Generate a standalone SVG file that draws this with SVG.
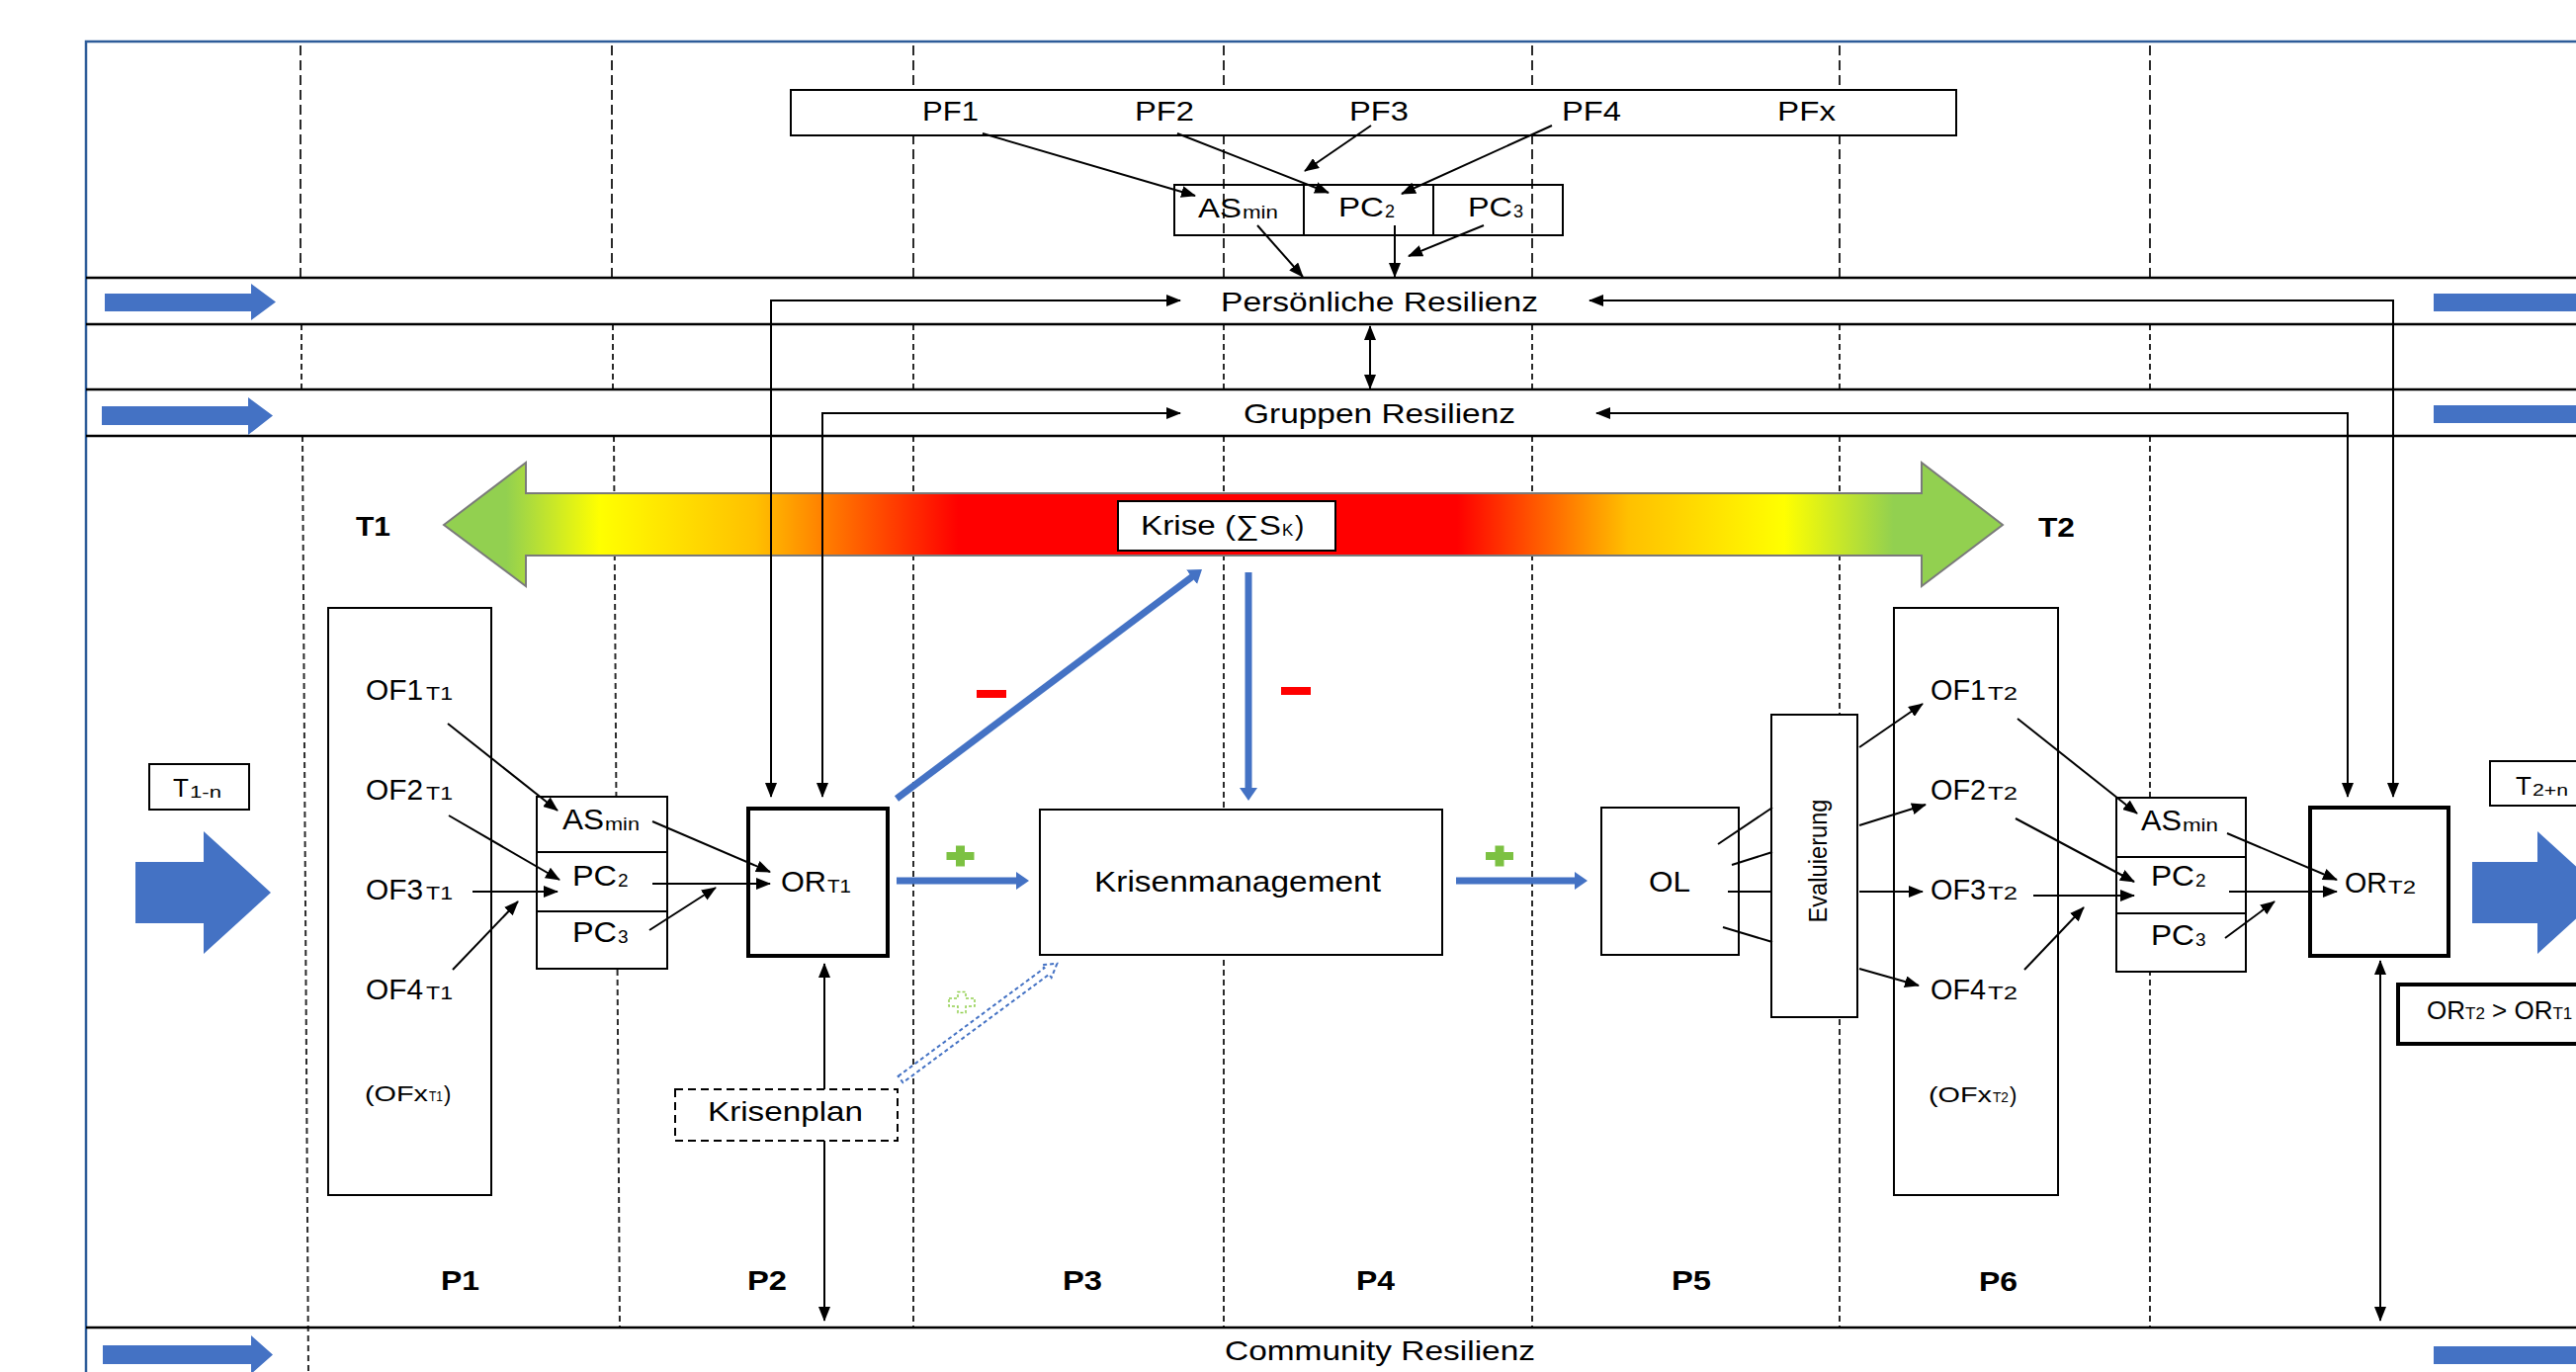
<svg xmlns="http://www.w3.org/2000/svg" width="2606" height="1388" viewBox="0 0 2606 1388">
<defs>
<style>
.t{font-family:"Liberation Sans",Arial,sans-serif;fill:#000}
.b{font-weight:bold}
.box{fill:#fff;stroke:#000;stroke-width:2}
.open{fill:none;stroke:#000;stroke-width:2}
.thick{fill:#fff;stroke:#000;stroke-width:4}
.ln{fill:none;stroke:#000;stroke-width:2}
.arr{fill:none;stroke:#000;stroke-width:2;marker-end:url(#ah)}
.darr{fill:none;stroke:#000;stroke-width:2;marker-start:url(#ah);marker-end:url(#ah)}
.dtop{stroke:#2a2a2a;stroke-width:2;stroke-dasharray:10 5}
.dlow{stroke:#2a2a2a;stroke-width:2;stroke-dasharray:6 4}
.band{stroke:#000;stroke-width:2.5}
.blue{fill:#4472c4}
.barr{fill:none;stroke:#4472c4;stroke-width:7;marker-end:url(#bh)}
.plus{fill:#7cc142}
.minus{fill:#ff0000}
</style>
<linearGradient id="crisisGrad" gradientUnits="userSpaceOnUse" x1="449" y1="0" x2="2026" y2="0">
<stop offset="0" stop-color="#92d050"/>
<stop offset="0.04" stop-color="#92d050"/>
<stop offset="0.10" stop-color="#ffff00"/>
<stop offset="0.20" stop-color="#ffc000"/>
<stop offset="0.33" stop-color="#ff0000"/>
<stop offset="0.65" stop-color="#ff0000"/>
<stop offset="0.76" stop-color="#ffc000"/>
<stop offset="0.86" stop-color="#ffff00"/>
<stop offset="0.93" stop-color="#92d050"/>
<stop offset="1" stop-color="#92d050"/>
</linearGradient>
<marker id="ah" markerUnits="userSpaceOnUse" viewBox="0 0 15 12" markerWidth="15" markerHeight="12" refX="14" refY="6" orient="auto-start-reverse">
<path d="M0,0 L15,6 L0,12 z" fill="#000"/>
</marker>
<marker id="bh" markerUnits="userSpaceOnUse" viewBox="0 0 13 18" markerWidth="13" markerHeight="18" refX="3" refY="9" orient="auto">
<path d="M0,0 L13,9 L0,18 z" fill="#4472c4"/>
</marker>
</defs>

<rect width="2606" height="1388" fill="#fff"/>

<!-- frame -->
<rect id="frame" x="87" y="42" width="2600" height="1400" fill="none" stroke="#2e5c99" stroke-width="2.5"/>

<!-- phase separators -->
<g id="phase-lines">
<line class="dtop" x1="304" y1="46" x2="304" y2="281"/>
<line class="dtop" x1="619" y1="46" x2="619" y2="281"/>
<line class="dtop" x1="924" y1="46" x2="924" y2="281"/>
<line class="dtop" x1="1238" y1="46" x2="1238" y2="281"/>
<line class="dtop" x1="1550" y1="46" x2="1550" y2="281"/>
<line class="dtop" x1="1861" y1="46" x2="1861" y2="281"/>
<line class="dtop" x1="2175" y1="46" x2="2175" y2="281"/>
<line class="dlow" x1="305" y1="328" x2="305" y2="394"/>
<line class="dlow" x1="620" y1="328" x2="620" y2="394"/>
<line class="dlow" x1="924" y1="328" x2="924" y2="394"/>
<line class="dlow" x1="1238" y1="328" x2="1238" y2="394"/>
<line class="dlow" x1="1550" y1="328" x2="1550" y2="394"/>
<line class="dlow" x1="1861" y1="328" x2="1861" y2="394"/>
<line class="dlow" x1="2175" y1="328" x2="2175" y2="394"/>
<line class="dlow" x1="306" y1="441" x2="312" y2="1388"/>
<line class="dlow" x1="621" y1="441" x2="627" y2="1343"/>
<line class="dlow" x1="924" y1="441" x2="924" y2="1343"/>
<line class="dlow" x1="1238" y1="441" x2="1238" y2="1343"/>
<line class="dlow" x1="1550" y1="441" x2="1550" y2="1343"/>
<line class="dlow" x1="1861" y1="441" x2="1861" y2="1343"/>
<line class="dlow" x1="2175" y1="441" x2="2175" y2="1343"/>
</g>

<!-- resilience bands -->
<g id="band-persoenlich">
<line class="band" x1="87" y1="281" x2="2606" y2="281"/>
<line class="band" x1="87" y1="328" x2="2606" y2="328"/>
<polygon class="blue" points="106,297 254,297 254,287 279,305.5 254,324 254,315 106,315"/>
<polygon class="blue" points="2462,297 2615,297 2615,287 2640,305.5 2615,324 2615,315 2462,315"/>
<text class="t" x="1235" y="315" font-size="28" textLength="321" lengthAdjust="spacingAndGlyphs">Persönliche Resilienz</text>
</g>
<g id="band-gruppen">
<line class="band" x1="87" y1="394" x2="2606" y2="394"/>
<line class="band" x1="87" y1="441" x2="2606" y2="441"/>
<polygon class="blue" points="103,411 251,411 251,402 276,420.5 251,440 251,430 103,430"/>
<polygon class="blue" points="2462,410 2615,410 2615,400 2640,419 2615,438 2615,428 2462,428"/>
<text class="t" x="1258" y="428" font-size="28" textLength="275" lengthAdjust="spacingAndGlyphs">Gruppen Resilienz</text>
</g>
<g id="band-community">
<line class="band" x1="87" y1="1343" x2="2606" y2="1343"/>
<polygon class="blue" points="104,1361 254,1361 254,1351 276,1370.5 254,1390 254,1380 104,1380"/>
<polygon class="blue" points="2462,1362 2615,1362 2615,1352 2640,1371 2615,1390 2615,1380 2462,1380"/>
<text class="t" x="1239" y="1376" font-size="28" textLength="314" lengthAdjust="spacingAndGlyphs">Community Resilienz</text>
</g>

<!-- crisis arrow -->
<g id="crisis-arrow">
<polygon points="449,531 532,468 532,499 1944,499 1944,468 2026,531 1944,593 1944,562 532,562 532,593" fill="url(#crisisGrad)" stroke="#7a7a7a" stroke-width="2"/>
</g>
<g id="label-t1"><text class="t b" x="360" y="542" font-size="27" textLength="35" lengthAdjust="spacingAndGlyphs">T1</text></g>
<g id="label-t2"><text class="t b" x="2062" y="543" font-size="27" textLength="37" lengthAdjust="spacingAndGlyphs">T2</text></g>

<!-- top PF area -->
<g id="pf-box">
<rect class="box" x="800" y="91" width="1179" height="46"/>
<text class="t" x="933" y="122" font-size="27" textLength="57" lengthAdjust="spacingAndGlyphs">PF1</text>
<text class="t" x="1148" y="122" font-size="27" textLength="60" lengthAdjust="spacingAndGlyphs">PF2</text>
<text class="t" x="1365" y="122" font-size="27" textLength="60" lengthAdjust="spacingAndGlyphs">PF3</text>
<text class="t" x="1580" y="122" font-size="27" textLength="60" lengthAdjust="spacingAndGlyphs">PF4</text>
<text class="t" x="1798" y="122" font-size="27" textLength="59" lengthAdjust="spacingAndGlyphs">PFx</text>
</g>
<g id="asmin-top">
<rect class="open" x="1188" y="187" width="131" height="51"/>
<text class="t" x="1212" y="220" font-size="28" textLength="44" lengthAdjust="spacingAndGlyphs">AS</text>
<text class="t" x="1257" y="221" font-size="18" textLength="36" lengthAdjust="spacingAndGlyphs">min</text>
</g>
<g id="pc2-top">
<rect class="open" x="1319" y="187" width="131" height="51"/>
<text class="t" x="1354" y="219" font-size="28" textLength="46" lengthAdjust="spacingAndGlyphs">PC</text>
<text class="t" x="1401" y="220" font-size="18">2</text>
</g>
<g id="pc3-top">
<rect class="open" x="1450" y="187" width="131" height="51"/>
<text class="t" x="1485" y="219" font-size="28" textLength="45" lengthAdjust="spacingAndGlyphs">PC</text>
<text class="t" x="1531" y="220" font-size="18">3</text>
</g>

<!-- time boxes -->
<g id="t1-n">
<rect class="box" x="151" y="773" width="101" height="46"/>
<text class="t" x="175" y="806" font-size="26">T</text>
<text class="t" x="192" y="807" font-size="16" textLength="32" lengthAdjust="spacingAndGlyphs">1-n</text>
</g>
<g id="t2-n">
<rect class="box" x="2519" y="770" width="110" height="45"/>
<text class="t" x="2545" y="804" font-size="26">T</text>
<text class="t" x="2562" y="805" font-size="16" textLength="36" lengthAdjust="spacingAndGlyphs">2+n</text>
</g>
<g id="arrow-t1-n"><polygon class="blue" points="137,872 206,872 206,841 274,903 206,965 206,934 137,934"/></g>
<g id="arrow-t2-n"><polygon class="blue" points="2501,872 2567,872 2567,841 2635,903 2567,965 2567,934 2501,934"/></g>

<!-- OF T1 -->
<g id="of-t1">
<rect class="box" x="332" y="615" width="165" height="594"/>
<text class="t" x="370" y="708" font-size="29" textLength="58" lengthAdjust="spacingAndGlyphs">OF1</text><text class="t" x="431" y="708" font-size="18" textLength="27" lengthAdjust="spacingAndGlyphs">T1</text>
<text class="t" x="370" y="809" font-size="29" textLength="58" lengthAdjust="spacingAndGlyphs">OF2</text><text class="t" x="431" y="809" font-size="18" textLength="27" lengthAdjust="spacingAndGlyphs">T1</text>
<text class="t" x="370" y="910" font-size="29" textLength="58" lengthAdjust="spacingAndGlyphs">OF3</text><text class="t" x="431" y="910" font-size="18" textLength="27" lengthAdjust="spacingAndGlyphs">T1</text>
<text class="t" x="370" y="1011" font-size="29" textLength="58" lengthAdjust="spacingAndGlyphs">OF4</text><text class="t" x="431" y="1011" font-size="18" textLength="27" lengthAdjust="spacingAndGlyphs">T1</text>
<text class="t" x="369" y="1114" font-size="22" textLength="64" lengthAdjust="spacingAndGlyphs">(OFx</text><text class="t" x="434" y="1114" font-size="14" textLength="14" lengthAdjust="spacingAndGlyphs">T1</text><text class="t" x="449" y="1114" font-size="22">)</text>
</g>
<g id="ascomp-t1">
<rect class="box" x="543" y="806" width="132" height="56"/>
<rect class="box" x="543" y="862" width="132" height="60"/>
<rect class="box" x="543" y="922" width="132" height="58"/>
<text class="t" x="569" y="839" font-size="29" textLength="42" lengthAdjust="spacingAndGlyphs">AS</text><text class="t" x="612" y="840" font-size="19" textLength="35" lengthAdjust="spacingAndGlyphs">min</text>
<text class="t" x="579" y="896" font-size="29" textLength="45" lengthAdjust="spacingAndGlyphs">PC</text><text class="t" x="625" y="897" font-size="19">2</text>
<text class="t" x="579" y="953" font-size="29" textLength="45" lengthAdjust="spacingAndGlyphs">PC</text><text class="t" x="625" y="954" font-size="19">3</text>
</g>
<g id="or-t1">
<rect class="thick" x="757" y="818" width="141" height="149"/>
<text class="t" x="790" y="902" font-size="29" textLength="46" lengthAdjust="spacingAndGlyphs">OR</text><text class="t" x="837" y="903" font-size="18" textLength="24" lengthAdjust="spacingAndGlyphs">T1</text>
</g>
<g id="krisenplan">
<rect x="683" y="1102" width="225" height="52" fill="#fff" stroke="#000" stroke-width="2" stroke-dasharray="8 5"/>
<text class="t" x="716" y="1134" font-size="28" textLength="157" lengthAdjust="spacingAndGlyphs">Krisenplan</text>
</g>
<g id="krise">
<rect class="box" x="1131" y="507" width="220" height="50"/>
<text class="t" x="1154" y="541" font-size="28" textLength="142" lengthAdjust="spacingAndGlyphs">Krise (∑S</text><text class="t" x="1297" y="542" font-size="17">K</text><text class="t" x="1310" y="541" font-size="28">)</text>
</g>
<g id="krisenmanagement">
<rect class="box" x="1052" y="819" width="407" height="147"/>
<text class="t" x="1107" y="902" font-size="30" textLength="290" lengthAdjust="spacingAndGlyphs">Krisenmanagement</text>
</g>
<g id="ol">
<rect class="box" x="1620" y="817" width="139" height="149"/>
<text class="t" x="1668" y="902" font-size="30" textLength="42" lengthAdjust="spacingAndGlyphs">OL</text>
</g>
<g id="evaluierung">
<rect class="box" x="1792" y="723" width="87" height="306"/>
<text class="t" transform="translate(1848,871) rotate(-90)" text-anchor="middle" font-size="25" textLength="125" lengthAdjust="spacingAndGlyphs">Evaluierung</text>
</g>

<!-- OF T2 -->
<g id="of-t2">
<rect class="box" x="1916" y="615" width="166" height="594"/>
<text class="t" x="1953" y="708" font-size="29" textLength="56" lengthAdjust="spacingAndGlyphs">OF1</text><text class="t" x="2011" y="708" font-size="18" textLength="30" lengthAdjust="spacingAndGlyphs">T2</text>
<text class="t" x="1953" y="809" font-size="29" textLength="56" lengthAdjust="spacingAndGlyphs">OF2</text><text class="t" x="2011" y="809" font-size="18" textLength="30" lengthAdjust="spacingAndGlyphs">T2</text>
<text class="t" x="1953" y="910" font-size="29" textLength="56" lengthAdjust="spacingAndGlyphs">OF3</text><text class="t" x="2011" y="910" font-size="18" textLength="30" lengthAdjust="spacingAndGlyphs">T2</text>
<text class="t" x="1953" y="1011" font-size="29" textLength="56" lengthAdjust="spacingAndGlyphs">OF4</text><text class="t" x="2011" y="1011" font-size="18" textLength="30" lengthAdjust="spacingAndGlyphs">T2</text>
<text class="t" x="1951" y="1115" font-size="22" textLength="64" lengthAdjust="spacingAndGlyphs">(OFx</text><text class="t" x="2016" y="1115" font-size="14" textLength="16" lengthAdjust="spacingAndGlyphs">T2</text><text class="t" x="2033" y="1115" font-size="22">)</text>
</g>
<g id="ascomp-t2">
<rect class="box" x="2141" y="807" width="131" height="60"/>
<rect class="box" x="2141" y="867" width="131" height="57"/>
<rect class="box" x="2141" y="924" width="131" height="59"/>
<text class="t" x="2166" y="840" font-size="29" textLength="41" lengthAdjust="spacingAndGlyphs">AS</text><text class="t" x="2208" y="841" font-size="19" textLength="36" lengthAdjust="spacingAndGlyphs">min</text>
<text class="t" x="2176" y="896" font-size="29" textLength="44" lengthAdjust="spacingAndGlyphs">PC</text><text class="t" x="2221" y="897" font-size="19">2</text>
<text class="t" x="2176" y="956" font-size="29" textLength="44" lengthAdjust="spacingAndGlyphs">PC</text><text class="t" x="2221" y="957" font-size="19">3</text>
</g>
<g id="or-t2">
<rect class="thick" x="2337" y="817" width="140" height="150"/>
<text class="t" x="2372" y="903" font-size="29" textLength="43" lengthAdjust="spacingAndGlyphs">OR</text><text class="t" x="2416" y="904" font-size="18" textLength="28" lengthAdjust="spacingAndGlyphs">T2</text>
</g>
<g id="compare">
<rect class="thick" x="2426" y="996" width="200" height="60"/>
<text class="t" x="2455" y="1031" font-size="26">OR<tspan font-size="17">T2</tspan> &gt; OR<tspan font-size="17">T1</tspan></text>
</g>

<!-- phase labels -->
<g id="phases">
<text class="t b" x="446" y="1305" font-size="28" textLength="39" lengthAdjust="spacingAndGlyphs">P1</text>
<text class="t b" x="756" y="1305" font-size="28" textLength="40" lengthAdjust="spacingAndGlyphs">P2</text>
<text class="t b" x="1075" y="1305" font-size="28" textLength="40" lengthAdjust="spacingAndGlyphs">P3</text>
<text class="t b" x="1372" y="1305" font-size="28" textLength="39" lengthAdjust="spacingAndGlyphs">P4</text>
<text class="t b" x="1691" y="1305" font-size="28" textLength="40" lengthAdjust="spacingAndGlyphs">P5</text>
<text class="t b" x="2002" y="1306" font-size="28" textLength="39" lengthAdjust="spacingAndGlyphs">P6</text>
</g>

<!-- connectors -->
<g id="connectors">
<!-- top PF -->
<line class="arr" x1="994" y1="135" x2="1209" y2="198"/>
<line class="arr" x1="1191" y1="135" x2="1344" y2="195"/>
<line class="arr" x1="1387" y1="127" x2="1320" y2="173"/>
<line class="arr" x1="1570" y1="127" x2="1418" y2="196"/>
<line class="arr" x1="1272" y1="228" x2="1318" y2="280"/>
<line class="arr" x1="1411" y1="228" x2="1411" y2="280"/>
<line class="arr" x1="1501" y1="228" x2="1425" y2="259"/>
<!-- band links -->
<path class="darr" d="M780,806 V304 H1194"/>
<path class="darr" d="M832,806 V418 H1194"/>
<path class="darr" d="M2421,806 V304 H1608"/>
<path class="darr" d="M2375,806 V418 H1615"/>
<path class="darr" d="M1386,330 V393"/>
<path class="darr" d="M834,975 V1102 M834,1154 V1336"/>
<path class="darr" d="M2408,972 V1336"/>
<!-- T1 -->
<line class="arr" x1="453" y1="732" x2="564" y2="820"/>
<line class="arr" x1="454" y1="825" x2="566" y2="890"/>
<line class="arr" x1="478" y1="902" x2="564" y2="902"/>
<line class="arr" x1="458" y1="981" x2="524" y2="912"/>
<line class="arr" x1="660" y1="831" x2="779" y2="882"/>
<line class="arr" x1="660" y1="894" x2="779" y2="894"/>
<line class="arr" x1="657" y1="941" x2="724" y2="898"/>
<!-- OL / Evaluierung -->
<line class="ln" x1="1738" y1="854" x2="1793" y2="817"/>
<line class="ln" x1="1752" y1="875" x2="1793" y2="862"/>
<line class="ln" x1="1748" y1="902" x2="1793" y2="902"/>
<line class="ln" x1="1743" y1="938" x2="1793" y2="953"/>
<line class="arr" x1="1881" y1="756" x2="1945" y2="712"/>
<line class="arr" x1="1881" y1="835" x2="1948" y2="814"/>
<line class="arr" x1="1881" y1="902" x2="1945" y2="902"/>
<line class="arr" x1="1881" y1="980" x2="1941" y2="997"/>
<!-- T2 -->
<line class="arr" x1="2041" y1="727" x2="2162" y2="823"/>
<line class="arr" x1="2039" y1="828" x2="2159" y2="892"/>
<line class="arr" x1="2057" y1="906" x2="2159" y2="906"/>
<line class="arr" x1="2048" y1="981" x2="2108" y2="918"/>
<line class="arr" x1="2253" y1="843" x2="2364" y2="890"/>
<line class="arr" x1="2255" y1="902" x2="2364" y2="902"/>
<line class="arr" x1="2251" y1="949" x2="2301" y2="912"/>
<!-- blue process arrows -->
<line class="barr" stroke-width="8" x1="907" y1="808" x2="1208" y2="582"/>
<line class="barr" x1="1263" y1="579" x2="1263" y2="800"/>
<line class="barr" x1="907" y1="891" x2="1031" y2="891"/>
<line class="barr" x1="1473" y1="891" x2="1596" y2="891"/>
<polygon transform="translate(911,1092) rotate(-36.5)" points="0,-4 184,-4 184,-8 197,0 184,8 184,4 0,4" fill="#fff" stroke="#4472c4" stroke-width="2" stroke-dasharray="4 3"/>
</g>

<!-- signs -->
<g id="signs">
<rect class="minus" x="988" y="698" width="30" height="8"/>
<rect class="minus" x="1296" y="695" width="30" height="8"/>
<path class="plus" d="M957.5,862 H967 V855.5 H976 V862 H985.5 V870 H976 V876.5 H967 V870 H957.5 Z"/>
<path class="plus" d="M1503,862 H1512.5 V855.5 H1521.5 V862 H1531 V870 H1521.5 V876.5 H1512.5 V870 H1503 Z"/>
<path d="M960,1010 H969 V1003.5 H977 V1010 H986 V1018 H977 V1024.5 H969 V1018 H960 Z" fill="none" stroke="#92d050" stroke-width="1.5" stroke-dasharray="3 2"/>
</g>
</svg>
